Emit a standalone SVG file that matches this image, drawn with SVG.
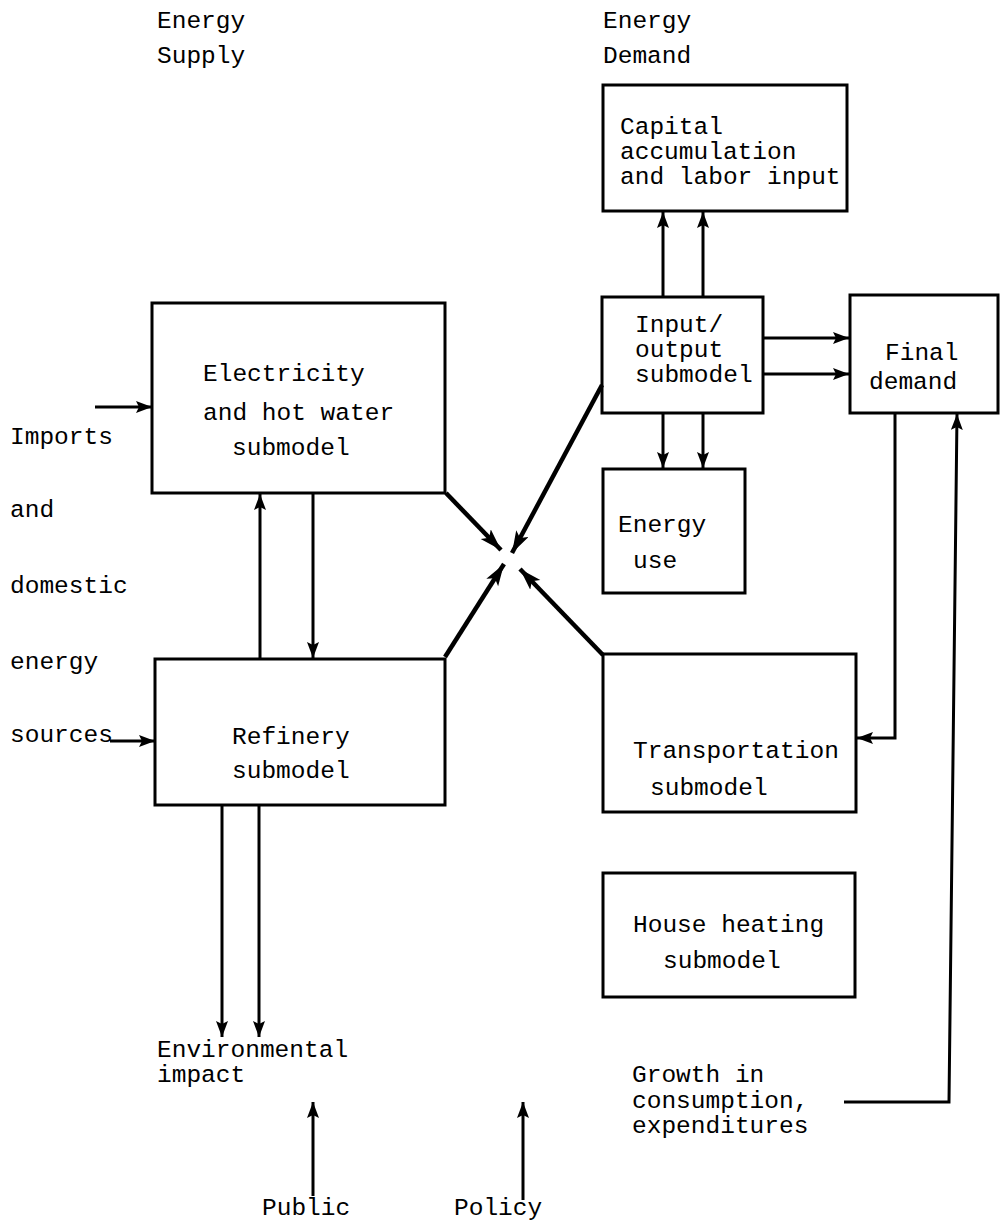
<svg xmlns="http://www.w3.org/2000/svg" width="1005" height="1224" viewBox="0 0 1005 1224">
<defs>
<marker id="ah" markerUnits="userSpaceOnUse" markerWidth="18" markerHeight="14" refX="16" refY="6" orient="auto">
<path d="M0,0 L16,6 L0,12 L3,6 z" fill="#000"/>
</marker>
<marker id="ahb" markerUnits="userSpaceOnUse" markerWidth="24" markerHeight="16" refX="22" refY="7" orient="auto">
<path d="M0,0 L22,7 L0,14 L5,7 z" fill="#000"/>
</marker>
</defs>
<style>
.box{fill:#fff;stroke:#000;stroke-width:3}
text{font-family:"Liberation Mono","DejaVu Sans Mono",monospace;font-size:24.5px;fill:#000}
.c{fill:none;stroke:#000;stroke-width:3}
.cb{fill:none;stroke:#000;stroke-width:4.5}
</style>
<rect width="1005" height="1224" fill="#fff"/>

<g id="labels">
<text x="157" y="28">Energy</text>
<text x="157" y="63">Supply</text>
<text x="603" y="28">Energy</text>
<text x="603" y="63">Demand</text>
<text x="10" y="444">Imports</text>
<text x="10" y="517">and</text>
<text x="10" y="593">domestic</text>
<text x="10" y="669">energy</text>
<text x="10" y="742">sources</text>
<text x="157" y="1057">Environmental</text>
<text x="157" y="1082">impact</text>
<text x="632" y="1082">Growth in</text>
<text x="632" y="1108">consumption,</text>
<text x="632" y="1133">expenditures</text>
<text x="262" y="1215">Public</text>
<text x="454" y="1215">Policy</text>
</g>

<g id="capital">
<rect class="box" x="603" y="85" width="244" height="126"/>
<text x="620" y="134">Capital</text>
<text x="620" y="159">accumulation</text>
<text x="620" y="184">and labor input</text>
</g>
<g id="io">
<rect class="box" x="602" y="297" width="161" height="116"/>
<text x="635" y="332">Input/</text>
<text x="635" y="357">output</text>
<text x="635" y="382">submodel</text>
</g>
<g id="final">
<rect class="box" x="850" y="295" width="148" height="118"/>
<text x="885" y="360">Final</text>
<text x="869" y="389">demand</text>
</g>
<g id="energyuse">
<rect class="box" x="603" y="469" width="142" height="124"/>
<text x="618" y="532">Energy</text>
<text x="633" y="568">use</text>
</g>
<g id="electricity">
<rect class="box" x="152" y="303" width="293" height="190"/>
<text x="203" y="381">Electricity</text>
<text x="203" y="420">and hot water</text>
<text x="232" y="455">submodel</text>
</g>
<g id="refinery">
<rect class="box" x="155" y="659" width="290" height="146"/>
<text x="232" y="744">Refinery</text>
<text x="232" y="778">submodel</text>
</g>
<g id="transport">
<rect class="box" x="603" y="654" width="253" height="158"/>
<text x="633" y="758">Transportation</text>
<text x="650" y="795">submodel</text>
</g>
<g id="heating">
<rect class="box" x="603" y="873" width="252" height="124"/>
<text x="633" y="932">House heating</text>
<text x="663" y="968">submodel</text>
</g>

<g id="connectors">
<line class="c" x1="663" y1="297" x2="663" y2="212" marker-end="url(#ah)"/>
<line class="c" x1="703" y1="297" x2="703" y2="212" marker-end="url(#ah)"/>
<line class="c" x1="663" y1="413" x2="663" y2="468" marker-end="url(#ah)"/>
<line class="c" x1="703" y1="413" x2="703" y2="468" marker-end="url(#ah)"/>
<line class="c" x1="763" y1="338" x2="849" y2="338" marker-end="url(#ah)"/>
<line class="c" x1="763" y1="374" x2="849" y2="374" marker-end="url(#ah)"/>
<polyline class="c" points="895,413 895,738 857,738" marker-end="url(#ah)"/>
<polyline class="c" points="844,1102 949,1102 957,414" marker-end="url(#ah)"/>
<line class="c" x1="260" y1="659" x2="260" y2="494" marker-end="url(#ah)"/>
<line class="c" x1="313" y1="493" x2="313" y2="658" marker-end="url(#ah)"/>
<line class="c" x1="222" y1="805" x2="222" y2="1037" marker-end="url(#ah)"/>
<line class="c" x1="259" y1="805" x2="259" y2="1037" marker-end="url(#ah)"/>
<line class="c" x1="313" y1="1196" x2="313" y2="1102" marker-end="url(#ah)"/>
<line class="c" x1="523" y1="1200" x2="523" y2="1102" marker-end="url(#ah)"/>
<line class="c" x1="95" y1="407" x2="152" y2="407" marker-end="url(#ah)"/>
<line class="c" x1="110" y1="741" x2="155" y2="741" marker-end="url(#ah)"/>
<line class="cb" x1="446" y1="493" x2="501" y2="550" marker-end="url(#ahb)"/>
<line class="cb" x1="602" y1="385" x2="512" y2="553" marker-end="url(#ahb)"/>
<line class="cb" x1="445" y1="657" x2="504" y2="564" marker-end="url(#ahb)"/>
<line class="cb" x1="603" y1="655" x2="520" y2="569" marker-end="url(#ahb)"/>
</g>
</svg>
